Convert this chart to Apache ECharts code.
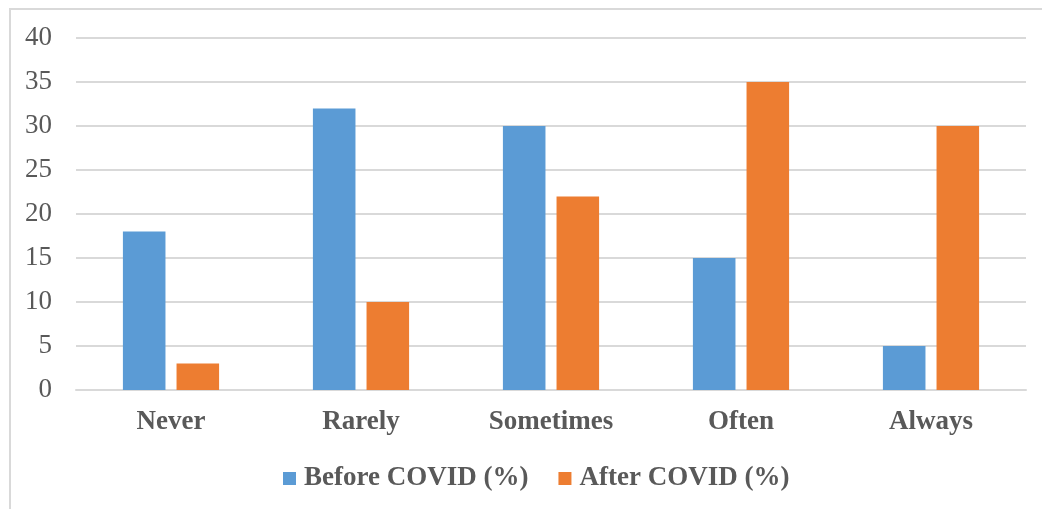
<!DOCTYPE html>
<html><head><meta charset="utf-8">
<script src="https://cdn.jsdelivr.net/npm/echarts@6/dist/echarts.min.js"></script>
<style>html,body{margin:0;padding:0;background:#fff}#c{width:1042px;height:509px}
#frame{position:absolute;left:9px;top:8px;width:1100px;height:600px;border:2px solid #d9d9d9;box-sizing:border-box;pointer-events:none}</style>
</head><body><div id="c"></div><div id="frame"></div>
<script>
const categories = ['Never', 'Rarely', 'Sometimes', 'Often', 'Always'];
const beforeCovid = [18, 32, 30, 15, 5];
const afterCovid = [3, 10, 22, 35, 30];
const seriesNames = ['Before COVID (%)', 'After COVID (%)'];
const chart = echarts.init(document.getElementById('c'));
const font = '"Liberation Serif", "Times New Roman", serif';
chart.setOption({
  animation: false,
  textStyle: {fontFamily: font},
  grid: {left: 76, right: 16, top: 38, bottom: 119},
  legend: {
    bottom: 12, left: 278, itemWidth: 13, itemHeight: 13, itemGap: 30,
    icon: 'rect',
    textStyle: {fontFamily: font, fontSize: 27, fontWeight: 'bold', color: '#595959', padding: [0, 0, 0, 3]},
    data: seriesNames
  },
  xAxis: {
    type: 'category', data: categories,
    axisLine: {lineStyle: {color: '#d9d9d9', width: 2}},
    axisTick: {show: false},
    axisLabel: {fontFamily: font, fontSize: 27, fontWeight: 'bold', color: '#595959', margin: 19}
  },
  yAxis: {
    type: 'value', min: 0, max: 40, interval: 5,
    axisLine: {show: false}, axisTick: {show: false},
    splitLine: {lineStyle: {color: '#d9d9d9', width: 2}},
    axisLabel: {fontFamily: font, fontSize: 27, color: '#595959', margin: 24}
  },
  series: [
    {name: seriesNames[0], type: 'bar', data: beforeCovid, barWidth: '22.4%', barGap: '26%', itemStyle: {color: '#5b9bd5'}},
    {name: seriesNames[1], type: 'bar', data: afterCovid, barWidth: '22.4%', barGap: '26%', itemStyle: {color: '#ed7d31'}}
  ]
});
</script></body></html>
